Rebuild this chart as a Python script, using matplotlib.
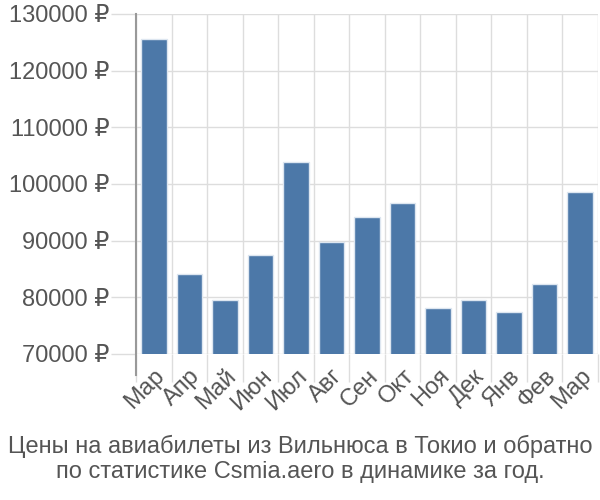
import numpy as np
import matplotlib.pyplot as plt
from matplotlib.ticker import FuncFormatter

plt.rcParams['font.family'] = ['Liberation Sans', 'DejaVu Sans']

#Data:-------------------------------------------------------------------------

months = ["Мар", "Апр", "Май", "Июн", "Июл", "Авг", "Сен", "Окт",
          "Ноя", "Дек", "Янв", "Фев", "Мар"]
prices = [125600, 84200, 79500, 87500, 103900, 89800, 94200, 96700,
          78100, 79600, 77400, 82300, 98600]
y_ticks = [70000, 80000, 90000, 100000, 110000, 120000, 130000]
title = "Цены на авиабилеты из Вильнюса в Токио и обратно\nпо статистике Csmia.aero в динамике за год."

#Plot:-------------------------------------------------------------------------

fig = plt.figure(figsize=(6, 5), dpi=100)
ax = fig.add_axes([136/600, 1-354/500, 462/600, 340/500])

x = np.arange(len(months))
ax.bar(x, prices, width=0.72, bottom=0, color="#4c78a8",
       edgecolor="#dde6f0", linewidth=1, zorder=3)

ax.set_xlim(-0.5, len(months)-0.5)
ax.set_ylim(70000, 130000)
ax.set_yticks(y_ticks)
ax.yaxis.set_major_formatter(FuncFormatter(lambda v, p: f"{int(v)} ₽"))

# band boundaries as grid lines and long ticks
ax.set_xticks(np.arange(-0.5, len(months)), minor=False)
ax.set_xticklabels([])
ax.set_xticks(x, minor=True)
ax.set_xticklabels(months, minor=True, rotation=45, ha="right",
                   rotation_mode="anchor", fontsize=17, color="#555555")
ax.tick_params(axis="x", which="major", length=20, color="#dddddd", width=1)
ax.tick_params(axis="x", which="minor", length=0, pad=8)
ax.tick_params(axis="y", length=18, color="#dddddd", width=1,
               labelsize=17, labelcolor="#555555", pad=1)

ax.grid(True, which="major", color="#dddddd", linewidth=1, zorder=0)
for s in ["top", "right", "bottom"]:
    ax.spines[s].set_visible(False)
ax.spines["left"].set_color("#999999")
ax.spines["left"].set_linewidth(1.5)
ax.spines["left"].set_bounds(66300, 130000)

fig.text(0.5, 1-459/500, title, ha="center", va="center", fontsize=17,
         color="#555555", linespacing=1.15)

fig.savefig("out.png", dpi=100)
